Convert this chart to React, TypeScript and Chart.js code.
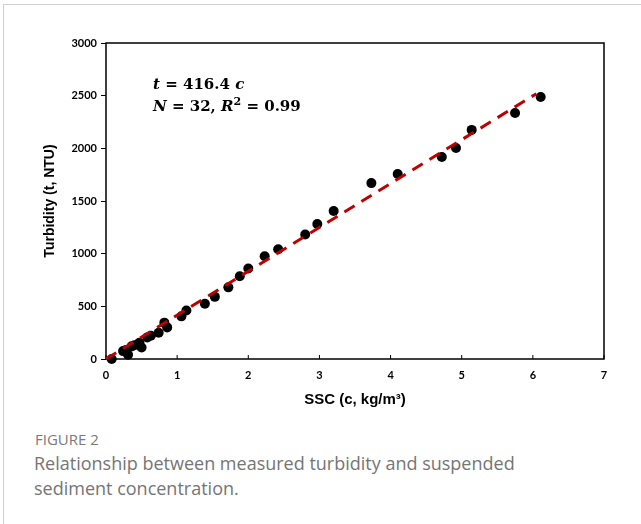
import React, { useEffect, useRef } from "react";
import { Chart, registerables } from "chart.js";

Chart.register(...registerables);

// Measured points (SSC in kg/m3, turbidity in NTU)
const sscValues = [
  0.08, 0.24, 0.28, 0.31, 0.36, 0.4, 0.47, 0.5, 0.58, 0.63, 0.74, 0.82, 0.86,
  1.06, 1.13, 1.39, 1.53, 1.72, 1.88, 2.0, 2.23, 2.42, 2.8, 2.97, 3.2, 3.73,
  4.1, 4.72, 4.92, 5.14, 5.75, 6.11,
];
const turbidityValues = [
  0, 75, 85, 40, 120, 130, 155, 110, 205, 220, 250, 345, 300, 405, 460, 525,
  590, 680, 785, 860, 975, 1042, 1182, 1282, 1405, 1670, 1757, 1918, 2003,
  2175, 2335, 2487,
];
// Fitted line t = 416.4 c (end points)
const fitSsc = [0, 6.05];
const fitTurbidity = [0, 2519];

const xTickValues = [0, 1, 2, 3, 4, 5, 6, 7];
const yTickValues = [0, 500, 1000, 1500, 2000, 2500, 3000];

const xTitle = "SSC (c, kg/m\u00b3)";
const yTitle = "Turbidity (t, NTU)";

const frameAndTicks = {
  id: "frameAndTicks",
  beforeDatasetsDraw(chart: any) {
    const { ctx, chartArea: a, scales } = chart;
    ctx.save();
    ctx.strokeStyle = "#000";
    ctx.lineWidth = 1.5;
    ctx.strokeRect(a.left, a.top, a.right - a.left, a.bottom - a.top);
    ctx.lineWidth = 1;
    scales.x.ticks.forEach((t: any) => {
      const px = scales.x.getPixelForValue(t.value);
      ctx.beginPath();
      ctx.moveTo(px, a.bottom);
      ctx.lineTo(px, a.bottom - 4);
      ctx.stroke();
    });
    ctx.restore();
  },
};

export default function App() {
  const canvasRef = useRef<HTMLCanvasElement | null>(null);

  useEffect(() => {
    if (!canvasRef.current) return;
    const points = sscValues.map((c, i) => ({ x: c, y: turbidityValues[i] }));
    const fit = fitSsc.map((c, i) => ({ x: c, y: fitTurbidity[i] }));
    const tickFont = { family: "Lato", size: 11, weight: "bold" as const };
    const chart = new Chart(canvasRef.current, {
      type: "scatter",
      data: {
        datasets: [
          {
            label: "fit",
            data: fit,
            showLine: true,
            borderColor: "#c00000",
            borderWidth: 3,
            borderDash: [12, 8],
            borderCapStyle: "butt",
            pointRadius: 0,
            order: 0,
            clip: false,
          } as any,
          {
            label: "measured",
            data: points,
            backgroundColor: "#000",
            borderColor: "#000",
            pointRadius: 5,
            borderWidth: 0,
            order: 1,
            clip: false,
          } as any,
        ],
      },
      options: {
        responsive: false,
        animation: false,
        devicePixelRatio: 1,
        layout: { padding: { left: 0, top: 43, right: 37, bottom: 0 } },
        plugins: {
          legend: { display: false },
          tooltip: { enabled: false },
        },
        scales: {
          x: {
            type: "linear",
            min: 0,
            max: 7,
            afterBuildTicks: (s: any) => {
              s.ticks = xTickValues.map((v) => ({ value: v }));
            },
            afterFit: (s: any) => {
              s.height = 61;
            },
            border: { display: false },
            grid: { drawOnChartArea: false, drawTicks: false, display: false },
            ticks: {
              color: "#000",
              font: tickFont,
              padding: 10,
              callback: (v: any) => String(v),
            },
            title: {
              display: true,
              text: xTitle,
              color: "#000",
              font: { family: "Liberation Sans", size: 15, weight: "bold" },
              padding: { top: 0, bottom: 11 },
            },
          },
          y: {
            type: "linear",
            min: 0,
            max: 3000,
            afterBuildTicks: (s: any) => {
              s.ticks = yTickValues.map((v) => ({ value: v }));
            },
            afterFit: (s: any) => {
              s.width = 106;
            },
            border: { display: false },
            grid: {
              drawOnChartArea: false,
              drawTicks: true,
              tickLength: 5,
              color: "#000",
              lineWidth: 1,
            },
            ticks: {
              color: "#000",
              font: tickFont,
              padding: 4,
              callback: (v: any) => String(v),
            },
            title: {
              display: true,
              text: yTitle,
              color: "#000",
              font: { family: "Liberation Sans", size: 14, weight: "bold" },
              padding: { top: 42, bottom: 0 },
            },
          },
        },
      },
      plugins: [frameAndTicks],
    });
    return () => chart.destroy();
  }, []);

  const mathStyle: React.CSSProperties = {
    position: "absolute",
    left: 153,
    fontFamily: "'DejaVu Serif', serif",
    fontWeight: "bold",
    fontSize: 15,
    lineHeight: "22px",
    color: "#000",
    whiteSpace: "nowrap",
  };

  return (
    <div
      style={{
        position: "absolute",
        left: 0,
        top: 0,
        width: 641,
        height: 524,
        overflow: "hidden",
        background: "#fff",
      }}
    >
      <div
        style={{
          position: "absolute",
          left: 3,
          top: 4,
          width: 700,
          height: 600,
          borderTop: "1px solid #d0d0d0",
          borderLeft: "1px solid #d0d0d0",
        }}
      />
      <canvas
        ref={canvasRef}
        width={641}
        height={420}
        style={{ position: "absolute", left: 0, top: 0, width: 641, height: 420 }}
      />
      <div style={{ ...mathStyle, top: 73 }}>
        <i>t</i> = 416.4 <i>c</i>
      </div>
      <div style={{ ...mathStyle, top: 95 }}>
        <i>N</i> = 32, <i>R</i>
        <sup style={{ fontSize: 11, lineHeight: 0 }}>2</sup> = 0.99
      </div>
      <div
        style={{
          position: "absolute",
          left: 35,
          top: 429,
          fontFamily: "'Open Sans', sans-serif",
          fontSize: 15,
          lineHeight: "20px",
          color: "#7a7a7a",
        }}
      >
        FIGURE 2
      </div>
      <div
        style={{
          position: "absolute",
          left: 34,
          top: 451,
          width: 580,
          fontFamily: "'Open Sans', sans-serif",
          fontSize: 18,
          lineHeight: "25px",
          color: "#757575",
        }}
      >
        Relationship between measured turbidity and suspended
        <br />
        sediment concentration.
      </div>
    </div>
  );
}
